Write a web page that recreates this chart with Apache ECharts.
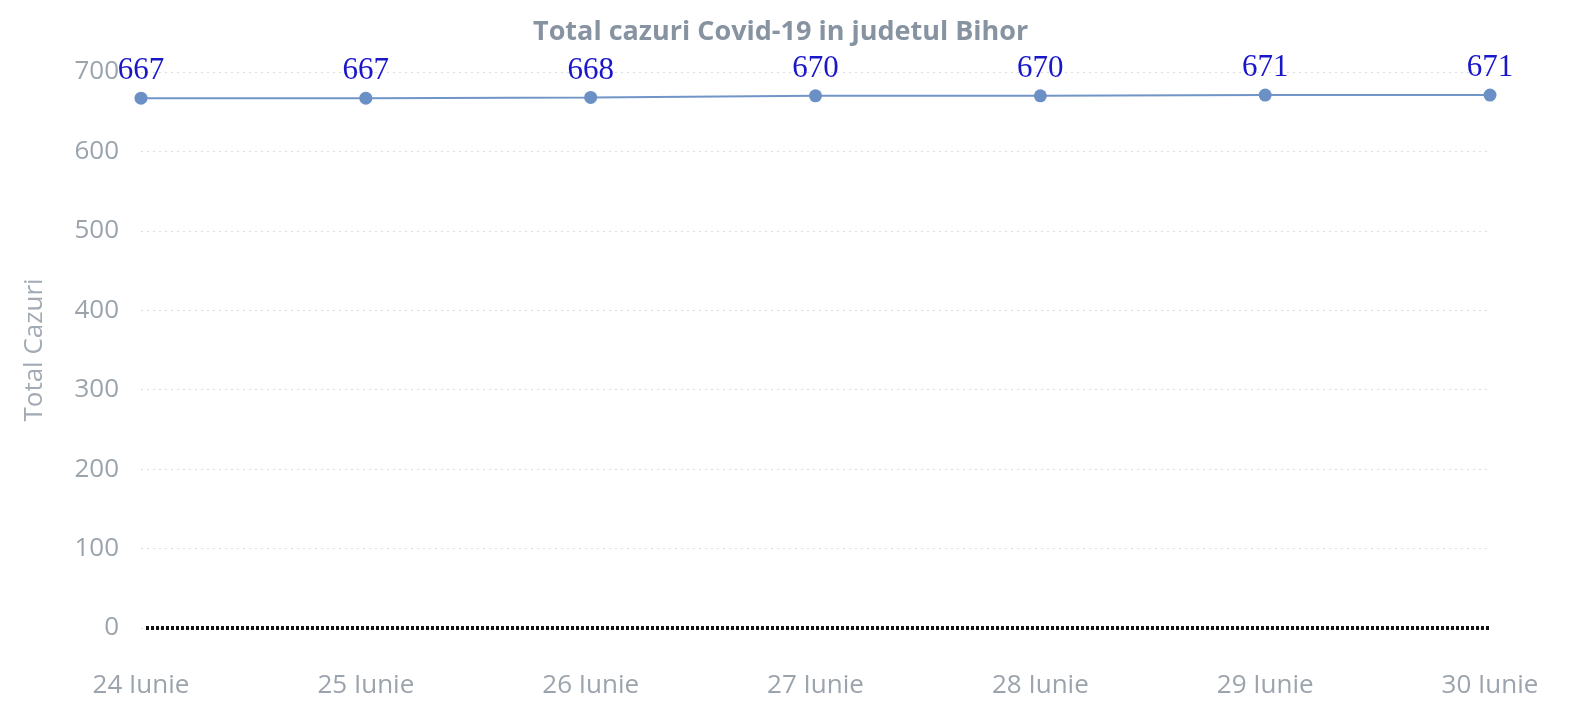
<!DOCTYPE html>
<html><head><meta charset="utf-8">
<script src="https://cdn.jsdelivr.net/npm/echarts@6/dist/echarts.min.js"></script>
<style>html,body{margin:0;padding:0;background:#fff}#c{width:1585px;height:711px}</style>
</head><body><div id="c"></div>
<script>
const titleText = 'Total cazuri Covid-19 in judetul Bihor';
const categories = ['24 Iunie','25 Iunie','26 Iunie','27 Iunie','28 Iunie','29 Iunie','30 Iunie'];
const totalCazuri = [667, 667, 668, 670, 670, 671, 671];
const yAxisName = 'Total Cazuri';

const chart = echarts.init(document.getElementById('c'));
chart.setOption({
  backgroundColor: '#ffffff',
  animation: false,
  title: {
    text: titleText, left: 528, top: 14,
    textStyle: { fontFamily: 'Open Sans', fontWeight: 'bold', fontSize: 27, color: '#8793a1' }
  },
  grid: { left: 141, right: 95, top: 72, bottom: 83, containLabel: false },
  xAxis: {
    type: 'category', data: categories, boundaryGap: false,
    axisLine: { show: false },
    axisTick: { show: false },
    axisLabel: { fontFamily: 'Open Sans', fontSize: 26, color: '#9ba4ad', margin: 45 },
    splitLine: { show: false }
  },
  yAxis: {
    type: 'value', min: 0, max: 700, interval: 100,
    name: yAxisName, nameLocation: 'middle', nameGap: 93, nameRotate: 90,
    nameTextStyle: { fontFamily: 'Open Sans', fontSize: 26, color: '#a2aab3' },
    axisLine: { show: false }, axisTick: { show: false },
    axisLabel: { fontFamily: 'Open Sans', fontSize: 26, color: '#9ba4ad', margin: 22 },
    splitLine: { show: true, lineStyle: { type: [2, 4], color: '#d9dde2', width: 1 } }
  },
  series: [
    {
      type: 'line', data: totalCazuri,
      symbol: 'circle', symbolSize: 13,
      lineStyle: { color: '#7295c8', width: 2 },
      itemStyle: { color: '#6a90c6' },
      label: {
        show: true, position: 'top', distance: 5,
        fontFamily: 'Liberation Serif', fontSize: 31, color: '#1a17c9'
      },
      markLine: {
        silent: true, symbol: 'none', label: { show: false },
        lineStyle: { color: '#111', type: [3, 2], width: 4 },
        data: [[{ yAxis: 0, x: 146 }, { yAxis: 0, x: 1490 }]]
      },
      z: 3
    }
  ]
});
</script></body></html>
